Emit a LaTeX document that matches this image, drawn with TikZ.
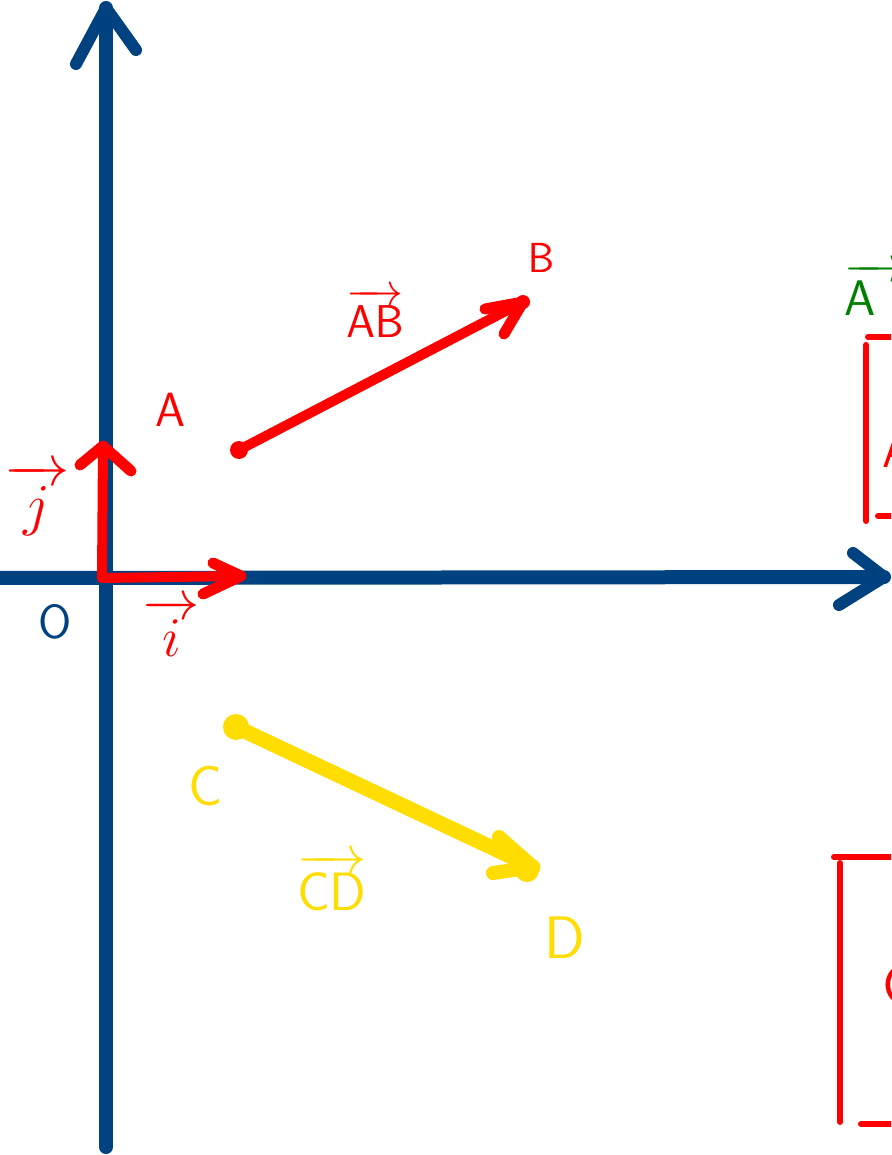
\RequirePackage{fix-cm}
\documentclass[tikz,border=0pt]{standalone}
\usepackage{amsmath}
\definecolor{axisblue}{RGB}{0,65,128}
\definecolor{vred}{RGB}{255,0,0}
\definecolor{vgreen}{RGB}{0,128,0}
\definecolor{vyellow}{RGB}{255,221,0}
\begin{document}
\begin{tikzpicture}[x=1pt,y=-1pt,line cap=round,line join=round,
  axisline/.style={draw=axisblue,line width=14pt},
  axishead/.style={draw=axisblue,line width=12pt},
  redvec/.style={draw=vred,line width=10pt},
  redhead/.style={draw=vred,line width=11pt},
  yelvec/.style={draw=vyellow,line width=15pt},
  bracket/.style={draw=vred,line width=6pt},
  lab/.style={inner sep=0pt,font=\fontsize{48}{54}\selectfont}
]
\useasboundingbox (0,0) rectangle (891,1155);
\fill[white] (0,0) rectangle (891,1155);
\clip (0,0) rectangle (891,1155);

% axes
\coordinate (xs) at (-10,578);
\coordinate (xt) at (884,577);
\coordinate (xa1) at (853,553);
\coordinate (xa2) at (839,605);
\coordinate (ys) at (106,1147);
\coordinate (yt) at (106,8);
\coordinate (ya1) at (76,64);
\coordinate (ya2) at (136,50);
\draw[axisline] (xs) -- (xt);
\draw[axishead] (xa1) -- (xt) -- (xa2);
\draw[axisline] (ys) -- (yt);
\draw[axishead] (ya1) -- (yt) -- (ya2);

% unit vectors
\coordinate (o) at (102,578);
\coordinate (it) at (241,576);
\coordinate (ia1) at (213,563);
\coordinate (ia2) at (203,594);
\coordinate (jt) at (103,446);
\coordinate (ja1) at (80,465);
\coordinate (ja2) at (131,471);
\draw[redvec] (o) -- (it);
\draw[redhead] (ia1) -- (it) -- (ia2);
\draw[redvec] (o) -- (jt);
\draw[redhead] (ja1) -- (jt) -- (ja2);

% vector AB
\coordinate (Ap) at (239,450);
\coordinate (Bp) at (523,302);
\coordinate (ba1) at (485,309);
\coordinate (ba2) at (504,334);
\fill[vred] (Ap) circle (9);
\fill[vred] (Bp) circle (7);
\draw[redvec] (Ap) -- (Bp);
\draw[redhead] (ba1) -- (Bp) -- (ba2);

% vector CD
\coordinate (Cp) at (236,727);
\coordinate (Dp) at (533,867);
\coordinate (da1) at (499,837);
\coordinate (da2) at (493,873);
\fill[vyellow] (Cp) circle (13);
\fill[vyellow] (527,870) circle (12);
\draw[yelvec] (Cp) -- (Dp);
\draw[draw=vyellow,line width=14pt] (da1) -- (Dp) -- (da2);

% brackets on the right
\coordinate (b1t) at (866,345);
\coordinate (b1b) at (866,521);
\draw[bracket] (b1t) -- (b1b);
\draw[bracket] (868,337) -- (895,337);
\draw[bracket] (878,516) -- (895,516);
\coordinate (b2t) at (840,863);
\coordinate (b2b) at (840,1122);
\draw[bracket] (b2t) -- (b2b);
\draw[bracket] (834,857) -- (895,857);
\draw[bracket] (861,1124) -- (895,1124);

% labels
\node[lab,text=axisblue] (lO) at (55,622) {$\mathsf{O}$};
\node[lab,text=vred] (lA) at (170,410) {$\mathsf{A}$};
\node[lab,text=vred,font=\fontsize{42}{48}\selectfont] (lB) at (541,258) {$\mathsf{B}$};
\node[lab,text=vred,font=\fontsize{46}{52}\selectfont] (lAB) at (375,313) {$\overrightarrow{\mathsf{AB}}$};
\node[lab,text=vred,font=\fontsize{58}{64}\selectfont] (lj) at (37,500) {$\overrightarrow{\,\,j\,\,}$};
\node[lab,text=vred,font=\fontsize{56}{62}\selectfont] (li) at (172,628) {$\overrightarrow{\,\,i\,\,}$};
\node[lab,text=vyellow,font=\fontsize{56}{60}\selectfont] (lC) at (205,786) {$\mathsf{C}$};
\node[lab,text=vyellow,font=\fontsize{54}{60}\selectfont] (lCD) at (332,882) {$\overrightarrow{\mathsf{CD}}$};
\node[lab,text=vyellow,font=\fontsize{60}{66}\selectfont] (lD) at (565,938) {$\mathsf{D}$};
\node[lab,text=vgreen,font=\fontsize{50}{56}\selectfont,anchor=south west] (lG) at (844,316) {$\overrightarrow{\mathsf{A}\hphantom{\mathsf{B}}}$};
\node[lab,text=vred,font=\fontsize{50}{56}\selectfont,anchor=west] (lR1) at (882,450) {$\mathsf{A}$};
\node[lab,text=vred,font=\fontsize{56}{60}\selectfont,anchor=west] (lR2) at (882,985) {$\mathsf{C}$};
\end{tikzpicture}
\end{document}
